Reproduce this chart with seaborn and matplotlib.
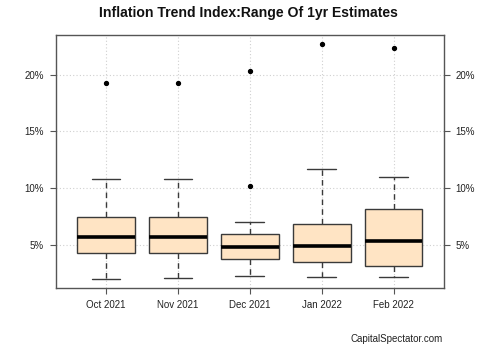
import matplotlib
matplotlib.use("Agg")
import matplotlib.pyplot as plt
import seaborn as sns
import pandas as pd
from matplotlib.ticker import FuncFormatter

months = ["Oct 2021", "Nov 2021", "Dec 2021", "Jan 2022", "Feb 2022"]
oct_2021 = [1.99, 3.0, 3.8, 4.21, 4.9, 5.3, 5.65, 6.2, 6.9, 7.47, 9.1, 10.77, 19.22]
nov_2021 = [2.05, 3.1, 3.9, 4.21, 4.8, 5.3, 5.65, 6.3, 7.0, 7.47, 9.0, 10.77, 19.22]
dec_2021 = [2.26, 2.9, 3.4, 3.76, 4.1, 4.5, 4.76, 5.1, 5.5, 5.91, 7.03, 10.21, 20.3]
jan_2022 = [2.17, 2.8, 3.2, 3.48, 4.0, 4.5, 4.91, 5.5, 6.2, 6.82, 8.9, 11.7, 22.67]
feb_2022 = [2.11, 2.5, 2.8, 3.06, 3.9, 4.7, 5.32, 6.3, 7.3, 8.15, 9.6, 11.0, 22.37]
y_ticks = [5, 10, 15, 20]

series = [oct_2021, nov_2021, dec_2021, jan_2022, feb_2022]
df = pd.DataFrame({
    "month": [m for m, s in zip(months, series) for _ in s],
    "value": [v for s in series for v in s],
})

sns.set_style("white")
plt.rcParams["font.family"] = ["Liberation Sans", "DejaVu Sans"]

fig = plt.figure(figsize=(5, 3.46), dpi=100)
ax = fig.add_axes([0.1114, 0.1676, 0.7766, 0.7312])

edge = "#3a3a3a"
sns.boxplot(
    data=df, x="month", y="value", order=months, ax=ax,
    color="#FFE4C4", saturation=1, width=0.8, linecolor=edge, linewidth=1.0,
    whis=1.5,
    whiskerprops=dict(linestyle=(0, (4, 3)), color=edge, linewidth=1.0),
    capprops=dict(color=edge, linewidth=1.0),
    medianprops=dict(color="black", linewidth=2.6),
    flierprops=dict(marker="o", markersize=2.8, markerfacecolor="black",
                    markeredgecolor="black"),
    zorder=3,
)

ax.set_xlim(-0.7, 4.7)
ax.set_ylim(1.16, 23.5)
ax.set_yticks(y_ticks)
ax.yaxis.set_major_formatter(FuncFormatter(lambda v, p: f"{v:.0f}%"))
ax.set_xlabel("")
ax.set_ylabel("")

ax.grid(True, color="#d0d0d0", linestyle=(0, (1, 2)), linewidth=0.8)
ax.set_axisbelow(True)

for s in ax.spines.values():
    s.set_visible(True)
    s.set_color("#555555")
    s.set_linewidth(1.0)

ax.tick_params(axis="both", which="both", direction="out", length=4.5, width=0.8,
               color="#555555", labelsize=7, labelcolor="#222222", pad=4)
ax.tick_params(axis="y", right=True, labelright=True, left=True)
ax.tick_params(axis="x", bottom=True)

fig.text(0.497, 0.962, "Inflation Trend Index:Range Of 1yr Estimates",
         ha="center", va="center", fontsize=10.1, fontweight="bold", color="#111111")
fig.text(0.886, 0.021, "CapitalSpectator.com", ha="right", va="center",
         fontsize=7, color="#222222")

fig.savefig("out.png", dpi=100)
